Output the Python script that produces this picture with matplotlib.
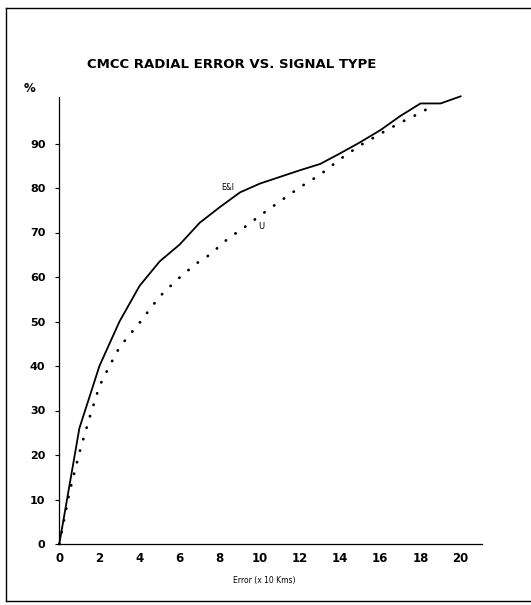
import matplotlib
matplotlib.use("Agg")
import matplotlib.pyplot as plt
from matplotlib.lines import Line2D

# E&I (solid) curve
ei_x = [0, 1, 2, 3, 4, 5, 6, 7, 8, 9, 10, 11, 12, 13, 14, 15, 16, 17, 18, 19, 20]
ei_y = [0, 26, 40, 50, 58, 63.5, 67.3, 72.2, 75.7, 79, 81, 82.5, 84, 85.4, 87.8, 90.3, 93, 96.2, 99, 99, 100.6]

# U (dotted) curve
u_x = [0, 0.5, 1, 1.5, 2, 2.5, 3, 3.5, 4, 4.5, 5, 5.5, 6, 6.5, 7, 7.5, 8, 8.5, 9, 10, 11, 12, 13, 14, 15, 16, 17, 18, 18.5]
u_y = [0, 11.5, 20.5, 28.3, 35.5, 40, 44.2, 47, 49.7, 52.7, 55.6, 57.8, 59.9, 61.8, 63.6, 65, 67, 69, 70.4, 73.8, 77, 80.2, 83, 86.5, 89.6, 92.2, 94.7, 96.9, 98.2]

x_ticks = [0, 2, 4, 6, 8, 10, 12, 14, 16, 18, 20]
y_ticks = [0, 10, 20, 30, 40, 50, 60, 70, 80, 90]

title = "CMCC RADIAL ERROR VS. SIGNAL TYPE"
xlabel = "Error (x 10 Kms)"

W, H = 531, 605
fig = plt.figure(figsize=(W / 100, H / 100), dpi=100)
fig.patch.set_facecolor("white")

# axes: x 0..21.05 from px 59.3 to 481.7 ; y 0 at px 544, 4.45 px per unit
ymax = 101
left = 59.3 / W
right = 481.7 / W
bottom = (H - 544) / H
top = (H - (544 - ymax * 4.45)) / H
ax = fig.add_axes([left, bottom, right - left, top - bottom])
ax.set_xlim(0, 21.05)
ax.set_ylim(0, ymax)

ax.plot(ei_x, ei_y, color="black", lw=1.3, clip_on=False)
ax.plot(u_x, u_y, color="black", lw=2.0, linestyle=(0, (0.1, 4.2)),
        dash_capstyle="round", clip_on=False)

ax.text(8.4, 80.2, "E&I", fontsize=5.5, ha="center", va="center")
ax.text(10.05, 71.3, "U", fontsize=6, ha="center", va="center")

for s in ["top", "right"]:
    ax.spines[s].set_visible(False)
ax.spines["left"].set_bounds(0, 100.4)
for s in ["left", "bottom"]:
    ax.spines[s].set_linewidth(0.9)
    ax.spines[s].set_color("black")

ax.set_xticks(x_ticks)
ax.set_xticklabels([str(v) for v in x_ticks], fontsize=8.5, fontweight="bold")
ax.set_yticks(y_ticks)
ax.set_yticklabels([str(v) for v in y_ticks], fontsize=8, fontweight="bold")
ax.tick_params(axis="x", length=0, pad=5.5)
ax.tick_params(axis="y", length=3, width=0.8, pad=7, direction="out")

fig.text(87 / W, 1 - 65 / H, title, fontsize=9.5, fontweight="bold",
         ha="left", va="center")
fig.text(30 / W, 1 - 88 / H, "%", fontsize=8.5, fontweight="bold",
         ha="center", va="center")
fig.text(264 / W, 1 - 581 / H, xlabel, fontsize=5.5, ha="center", va="center")

# outer frame (left, top, bottom)
fig.add_artist(Line2D([6 / W, 6 / W], [1 - 8 / H, 1 - 601 / H], color="black", lw=1.0))
fig.add_artist(Line2D([6 / W, 1.0], [1 - 8 / H, 1 - 8 / H], color="black", lw=1.0))
fig.add_artist(Line2D([6 / W, 1.0], [1 - 601 / H, 1 - 601 / H], color="black", lw=1.0))

fig.savefig("out.png", dpi=100)
